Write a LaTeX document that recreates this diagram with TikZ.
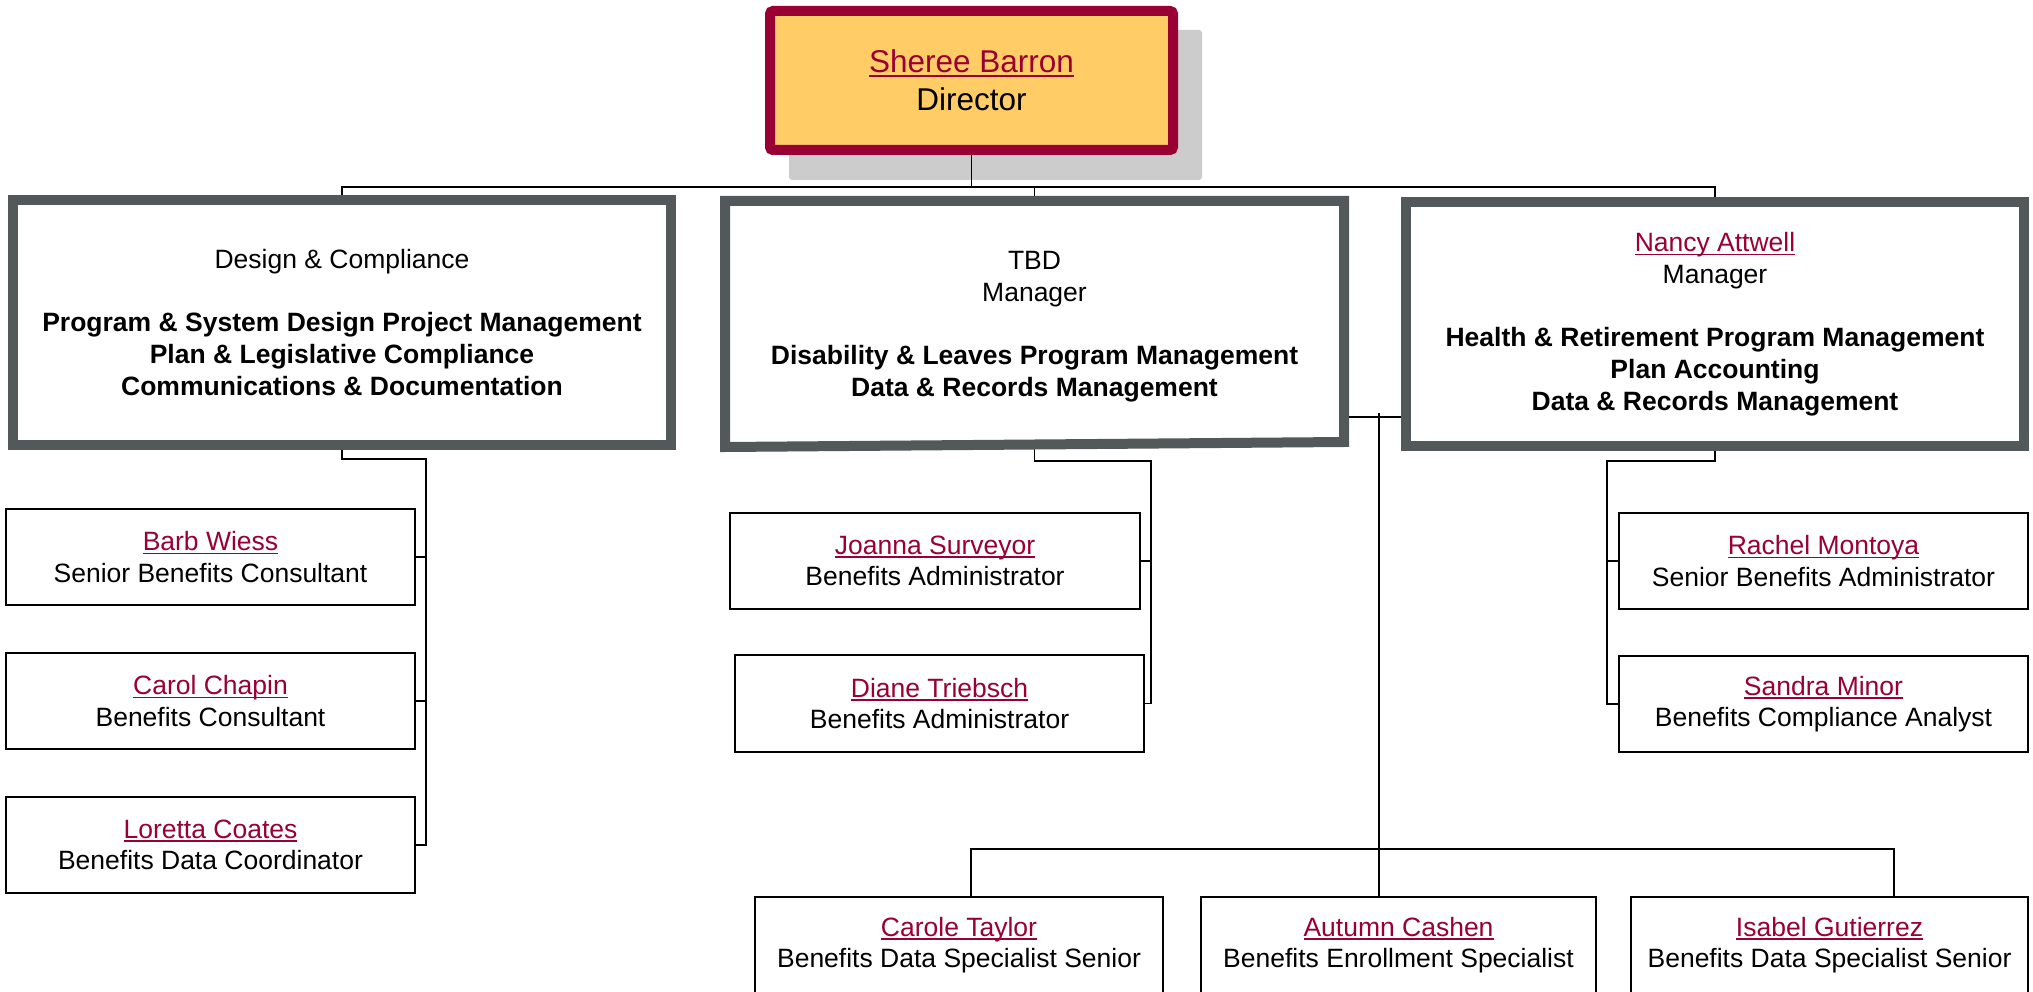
\documentclass[tikz,border=0pt]{standalone}
\usepackage{fontspec}
\setmainfont{Liberation Sans}
\usetikzlibrary{calc}
\pgfdeclarelayer{bg}
\pgfdeclarelayer{mid}
\pgfsetlayers{bg,mid,main}
\definecolor{maroon}{HTML}{990033}
\definecolor{dirfill}{HTML}{FFCC66}
\definecolor{mgray}{HTML}{53585A}
\definecolor{shadowgray}{HTML}{CCCCCC}
\newsavebox\unamebox
\newcommand\uname[1]{{\color{maroon}\sbox\unamebox{#1}\rlap{\rule[-0.14em]{\wd\unamebox}{0.065em}}\usebox\unamebox}}
\tikzset{
  conn/.style={draw=black, line width=1.6pt},
  dirbox/.style={draw=maroon, line width=10pt, fill=dirfill, rounded corners=3pt, inner sep=0pt, outer sep=0pt, align=center, font=\fontsize{31.5}{38.3}\selectfont},
  mgrbox/.style={draw=mgray, line width=10pt, fill=white, inner sep=0pt, outer sep=0pt, align=center, font=\fontsize{26.5}{31.7}\selectfont},
  mgrtext/.style={draw=none, inner sep=0pt, outer sep=0pt, align=center, font=\fontsize{26.5}{31.7}\selectfont},
  mgrline/.style={draw=mgray, line width=10pt, fill=white},
  empbox/.style={draw=black, line width=1.7pt, fill=white, inner sep=0pt, outer sep=0pt, align=center, font=\fontsize{26.5}{31.5}\selectfont},
}
\begin{document}
\begin{tikzpicture}[x=1pt, y=-1pt]
\useasboundingbox (0,0) rectangle (2033,992);
\begin{pgfonlayer}{bg}
  \fill[white] (0,0) rectangle (2033,992);
  \fill[shadowgray, rounded corners=3pt] (789,30) rectangle (1202,180);
\end{pgfonlayer}

% director
\node[dirbox, minimum width=403pt, minimum height=139pt] (D) at (971.5,80.5) {\uname{Sheree Barron}\\Director};

% managers
\node[mgrbox, minimum width=658pt, minimum height=245pt] (L) at (342,322.5)
  {Design \& Compliance\\[31.7pt]\textbf{Program \& System Design Project Management}\\\textbf{Plan \& Legislative Compliance}\\\textbf{Communications \& Documentation}};
\node[mgrtext, minimum width=619pt, minimum height=243.5pt] (M) at (1034.5,326.75)
  {TBD\\Manager\\[31.7pt]\textbf{Disability \& Leaves Program Management}\\\textbf{Data \& Records Management}};
\begin{pgfonlayer}{mid}
  \draw[mgrline] ([yshift=4pt]M.north west) -- ([yshift=4pt]M.north east) -- ([yshift=6.5pt]M.south east) -- ([yshift=1.5pt]M.south west) -- cycle;
\end{pgfonlayer}
\node[mgrbox, minimum width=618pt, minimum height=244pt] (R) at (1715,324)
  {\uname{Nancy Attwell}\\Manager\\[31.7pt]\textbf{Health \& Retirement Program Management}\\\textbf{Plan Accounting}\\\textbf{Data \& Records Management}};

% left staff
\node[empbox, minimum width=409pt, minimum height=96pt] (barb) at (210.5,557) {\uname{Barb Wiess}\\Senior Benefits Consultant};
\node[empbox, minimum width=409pt, minimum height=96pt] (carol) at (210.5,701) {\uname{Carol Chapin}\\Benefits Consultant};
\node[empbox, minimum width=409pt, minimum height=96pt] (loretta) at (210.5,845) {\uname{Loretta Coates}\\Benefits Data Coordinator};

% middle staff
\node[empbox, minimum width=410pt, minimum height=96pt] (joanna) at (935,561) {\uname{Joanna Surveyor}\\Benefits Administrator};
\node[empbox, minimum width=409pt, minimum height=97pt] (diane) at (939.5,703.5) {\uname{Diane Triebsch}\\Benefits Administrator};

% right staff
\node[empbox, minimum width=409pt, minimum height=96pt] (rachel) at (1823.5,561) {\uname{Rachel Montoya}\\Senior Benefits Administrator};
\node[empbox, minimum width=409pt, minimum height=96pt] (sandra) at (1823.5,704) {\uname{Sandra Minor}\\Benefits Compliance Analyst};

% bottom staff
\node[empbox, minimum width=408pt, minimum height=96pt] (carole) at (959,945) {\uname{Carole Taylor}\\Benefits Data Specialist Senior};
\node[empbox, minimum width=395pt, minimum height=96pt] (autumn) at (1398.5,945) {\uname{Autumn Cashen}\\Benefits Enrollment Specialist};
\node[empbox, minimum width=397pt, minimum height=96pt] (isabel) at (1829.5,945) {\uname{Isabel Gutierrez}\\Benefits Data Specialist Senior};

% connector coordinates
\coordinate (tb) at (0,187);
\coordinate (Lj) at (426,459);
\coordinate (Mj) at (1151,461);
\coordinate (Rj) at (1607,461);
\coordinate (Ax) at (1379,417);
\coordinate (Bt) at (1379,413);
\coordinate (cl) at (971,849);
\coordinate (cr) at (1894,849);

\begin{pgfonlayer}{bg}
  % top bus
  \draw[conn] (D.south) -- (D.south |- tb);
  \draw[conn] (L.north) -- (L.north |- tb) -- (R.north |- tb) -- (R.north);
  \draw[conn] (M.north |- tb) -- (M.north);
  % left group
  \draw[conn] (L.south) |- (Lj) |- (loretta.east);
  \draw[conn] (barb.east) -- (barb.east -| Lj);
  \draw[conn] (carol.east) -- (carol.east -| Lj);
  % middle group
  \draw[conn] (M.south) |- (Mj) |- (diane.east);
  \draw[conn] (joanna.east) -- (joanna.east -| Mj);
  % right group
  \draw[conn] (R.south) |- (Rj) |- (sandra.west);
  \draw[conn] (rachel.west) -- (rachel.west -| Rj);
  % cross link and bottom group
  \draw[conn] (M.east |- Ax) -- (R.west |- Ax);
  \draw[conn] (Bt) -- (Bt |- autumn.north);
  \draw[conn] (cl |- carole.north) -- (cl) -- (cr) -- (cr |- isabel.north);
\end{pgfonlayer}
\end{tikzpicture}
\end{document}
